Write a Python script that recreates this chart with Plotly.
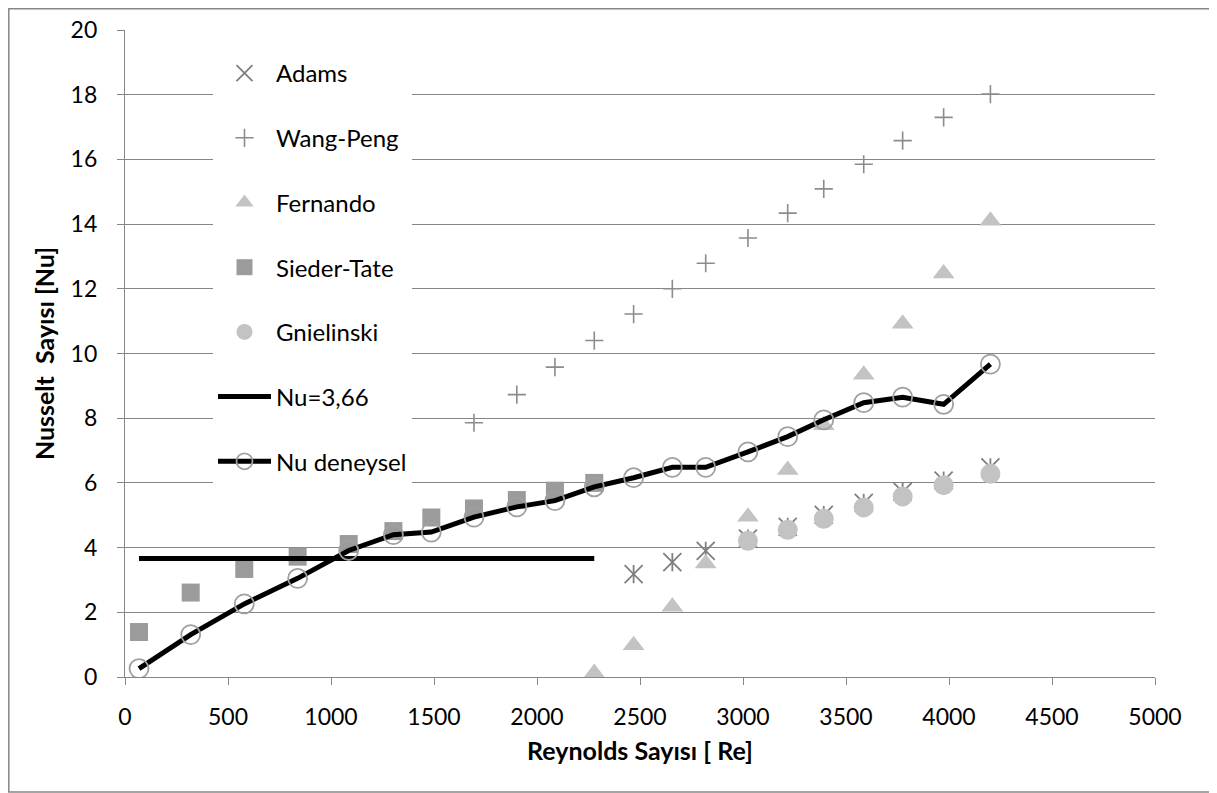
import plotly.graph_objects as go

# ---------------- data ----------------
re_all = [68, 319, 579, 838, 1086, 1303, 1487, 1694, 1902, 2087, 2278,
          2469, 2657, 2819, 3024, 3217, 3392, 3586, 3775, 3974, 4201]

nu_deneysel = [0.26, 1.31, 2.26, 3.05, 3.91, 4.40, 4.48, 4.94, 5.26, 5.45, 5.88,
               6.16, 6.48, 6.48, 6.96, 7.43, 7.95, 8.48, 8.65, 8.43, 9.67]

re_sieder = re_all[:11]
nu_sieder = [1.39, 2.61, 3.34, 3.72, 4.11, 4.51, 4.93, 5.21, 5.47, 5.76, 6.00]

re_const = re_all[:11]
nu_const = [3.66] * 11

re_wang = re_all[7:]
nu_wang = [7.86, 8.73, 9.58, 10.40, 11.22, 12.00, 12.79, 13.57, 14.34, 15.09,
           15.85, 16.58, 17.30, 18.02]

re_fernando = re_all[10:]
nu_fernando = [0.12, 0.98, 2.17, 3.51, 4.95, 6.40, 7.78, 9.34, 10.92, 12.47, 14.10]

re_adams = re_all[11:]
nu_adams = [3.18, 3.55, 3.90, 4.28, 4.64, 5.01, 5.38, 5.72, 6.07, 6.48]

re_gniel = re_all[14:]
nu_gniel = [4.21, 4.55, 4.89, 5.24, 5.58, 5.93, 6.28]

x_ticks = list(range(0, 5001, 500))
y_ticks = list(range(0, 21, 2))

# ---------------- figure ----------------
FONT = "Lato"
OFF = 8                      # page body margin in the browser
W, H = 1217 - OFF, 793 - OFF
PL, PT, PR, PB = 125, 30, 1155, 677   # plot area on screen
ML, MT = PL - OFF, PT - OFF
PW, PH = PR - PL, PB - PT
MR = W - ML - PW
MB = H - MT - PH

fig = go.Figure()

fig.add_trace(go.Scatter(
    x=re_adams, y=nu_adams, mode="markers", name="Adams", legendgroup="a",
    marker=dict(symbol="x-thin-open", size=18, color="#7f7f7f",
                line=dict(color="#7f7f7f", width=1.8))))
fig.add_trace(go.Scatter(
    x=re_adams, y=nu_adams, mode="markers", name="Adams", legendgroup="a",
    showlegend=False,
    marker=dict(symbol="line-ns-open", size=13, color="#7f7f7f",
                line=dict(color="#7f7f7f", width=1.8))))
fig.add_trace(go.Scatter(
    x=re_wang, y=nu_wang, mode="markers", name="Wang-Peng", legendgroup="b",
    marker=dict(symbol="cross-thin-open", size=13, color="#8c8c8c",
                line=dict(color="#8c8c8c", width=1.6))))
fig.add_trace(go.Scatter(
    x=re_fernando, y=nu_fernando, mode="markers", name="Fernando", legendgroup="c",
    marker=dict(symbol="triangle-up", size=19, color="#c3c3c3",
                line=dict(width=0))))
fig.add_trace(go.Scatter(
    x=re_sieder, y=nu_sieder, mode="markers", name="Sieder-Tate", legendgroup="d",
    marker=dict(symbol="square", size=18, color="#9b9b9b", line=dict(width=0))))
fig.add_trace(go.Scatter(
    x=re_gniel, y=nu_gniel, mode="markers", name="Gnielinski", legendgroup="e",
    marker=dict(symbol="circle", size=20, color="#c3c3c3", line=dict(width=0))))
fig.add_trace(go.Scatter(
    x=re_const, y=nu_const, mode="lines", name="Nu=3,66", legendgroup="f",
    line=dict(color="black", width=5)))
fig.add_trace(go.Scatter(
    x=re_all, y=nu_deneysel, mode="lines+markers", name="Nu deneysel", legendgroup="g",
    line=dict(color="black", width=5),
    marker=dict(symbol="circle-open", size=19, color="#a0a0a0",
                line=dict(color="#a0a0a0", width=1.8))))

def sx(px):  # screen x -> paper x
    return (px - PL) / PW

def sy(py):  # screen y -> paper y
    return (PB - py) / PH

# outer chart border (right edge lies outside the picture)
fig.add_shape(type="rect", xref="paper", yref="paper",
              x0=sx(OFF + 0.8), x1=sx(1240),
              y0=sy(792), y1=sy(OFF + 0.8),
              line=dict(color="#868686", width=1.5), fillcolor="rgba(0,0,0,0)",
              layer="below")

fig.update_layout(
    width=W, height=H,
    margin=dict(l=ML, r=MR, t=MT, b=MB, autoexpand=False),
    paper_bgcolor="white", plot_bgcolor="white",
    font=dict(family=FONT, size=22, color="black"),
    showlegend=True,
    legend=dict(
        x=sx(213), xanchor="left",
        y=sy(51), yanchor="top",
        bgcolor="white", borderwidth=0,
        font=dict(family=FONT, size=24, color="black"),
        itemwidth=53, tracegroupgap=30.5,
        itemclick=False, itemdoubleclick=False,
    ),
    xaxis=dict(
        range=[0, 5000], tickvals=x_ticks, ticktext=[str(v) for v in x_ticks],
        showgrid=False, zeroline=False,
        showline=True, linecolor="#868686", linewidth=1.3,
        ticks="outside", ticklen=7, tickcolor="#868686", tickwidth=1.3,
        ticklabelstandoff=12,
        tickfont=dict(family=FONT, size=23, color="black"),
        title=dict(text="<b>Reynolds Sayısı [ Re]</b>", standoff=13,
                   font=dict(family=FONT, size=25, color="black")),
        automargin=False,
    ),
    yaxis=dict(
        range=[0, 20], tickvals=y_ticks, ticktext=[str(v) for v in y_ticks],
        showgrid=True, gridcolor="#868686", gridwidth=1.3,
        zeroline=False,
        showline=True, linecolor="#868686", linewidth=1.3,
        ticks="outside", ticklen=7, tickcolor="#868686", tickwidth=1.3,
        ticklabelstandoff=15,
        tickfont=dict(family=FONT, size=23, color="black"),
        title=dict(text="<b>Nusselt\u00a0\u00a0Sayısı [Nu]</b>", standoff=8,
                   font=dict(family=FONT, size=25, color="black")),
        automargin=False,
    ),
)

fig.write_html("out.html")
